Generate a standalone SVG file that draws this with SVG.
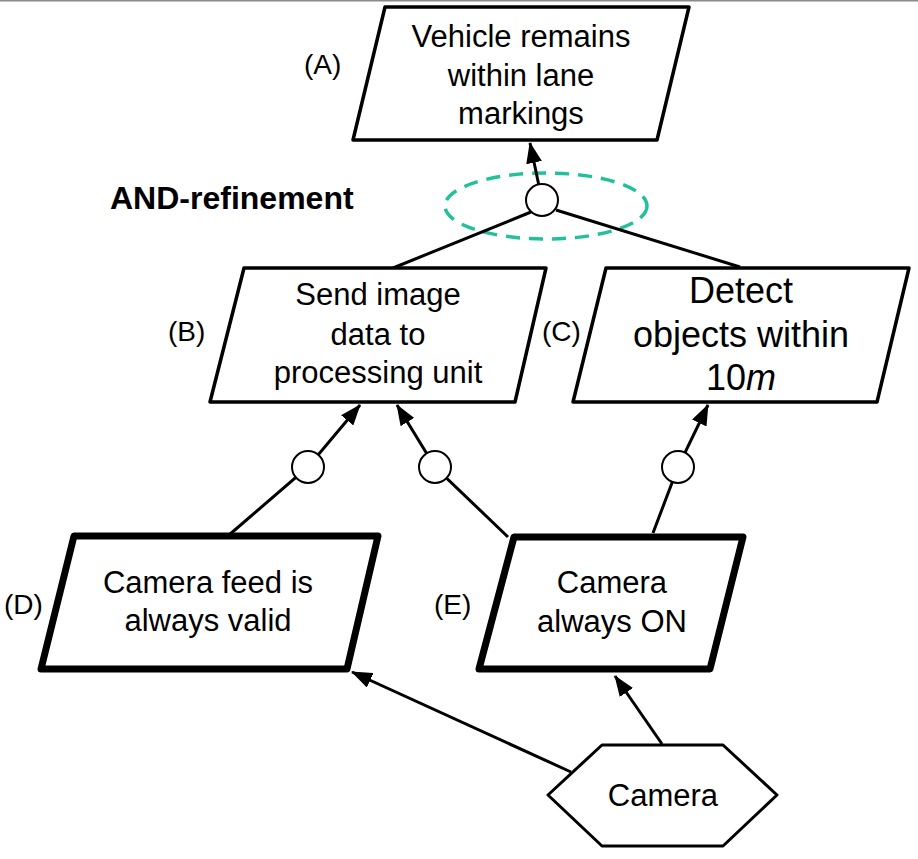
<svg xmlns="http://www.w3.org/2000/svg" width="918" height="859" viewBox="0 0 918 859">
<style>
  text { font-family: "Liberation Sans", Arial, Helvetica, sans-serif; fill: #000; }
  .t { font-size: 31px; text-anchor: middle; }
  .tc { font-size: 36px; text-anchor: middle; }
  .lbl { font-size: 28px; }
  .and { font-size: 32px; font-weight: bold; }
  .goal { fill: #fff; stroke: #000; stroke-width: 3.5; stroke-linejoin: round; }
  .leaf { fill: #fff; stroke: #000; stroke-width: 7; stroke-linejoin: round; }
  .agent { fill: #fff; stroke: #000; stroke-width: 3; stroke-linejoin: round; }
  .edge { fill: none; stroke: #000; stroke-width: 3; }
  .arr { marker-end: url(#ah); }
  .ref { fill: #fff; stroke: #000; stroke-width: 2; }
</style>
<defs>
  <marker id="ah" markerUnits="userSpaceOnUse" viewBox="0 0 21 16" markerWidth="21" markerHeight="16" refX="20" refY="8" orient="auto">
    <path d="M0,0 L21,8 L0,16 z" fill="#000"/>
  </marker>
</defs>
<rect x="0" y="0" width="918" height="1.5" fill="#8a8a8a"/>

<ellipse id="and-refinement-scope" cx="546" cy="206" rx="101" ry="33" fill="none" stroke="#22c09b" stroke-width="3.5" stroke-dasharray="14 9"/>
<text class="and" x="110" y="209">AND-refinement</text>

<g id="connectors">
  <line class="edge arr" x1="539" y1="186" x2="530" y2="143"/>
  <line class="edge" x1="531" y1="212" x2="393" y2="268"/>
  <line class="edge" x1="556" y1="210" x2="740" y2="267"/>
  <polyline class="edge arr" points="229,535 308,467 360,405"/>
  <polyline class="edge arr" points="508,537 435,467 397,405"/>
  <polyline class="edge arr" points="653,533 678,467 708,405"/>
  <line class="edge arr" x1="662" y1="744" x2="615" y2="676"/>
  <line class="edge arr" x1="571" y1="772" x2="352" y2="672"/>
  <circle class="ref" cx="542" cy="200" r="16"/>
  <circle class="ref" cx="308" cy="467" r="16"/>
  <circle class="ref" cx="435" cy="467" r="16"/>
  <circle class="ref" cx="678" cy="467" r="16"/>
</g>

<g id="nodeA">
  <polygon class="goal" points="385,7 689,7 657,140 353,140"/>
  <text class="t" x="521" y="47">Vehicle remains</text>
  <text class="t" x="521" y="86">within lane</text>
  <text class="t" x="521" y="124">markings</text>
  <text class="lbl" x="304" y="74">(A)</text>
</g>

<g id="nodeB">
  <polygon class="goal" points="244,268 546,268 515,402 210,402"/>
  <text class="t" x="378" y="305">Send image</text>
  <text class="t" x="378" y="345">data to</text>
  <text class="t" x="378" y="383">processing unit</text>
  <text class="lbl" x="168" y="341">(B)</text>
</g>

<g id="nodeC">
  <polygon class="goal" points="606,268 909,268 877,402 573,402"/>
  <text class="tc" x="741" y="303">Detect</text>
  <text class="tc" x="741" y="347">objects within</text>
  <text class="tc" x="741" y="390">10<tspan font-style="italic">m</tspan></text>
  <text class="lbl" x="542" y="341">(C)</text>
</g>

<g id="nodeD">
  <polygon class="leaf" points="74,536 378,536 347,669 41,669"/>
  <text class="t" x="208" y="593">Camera feed is</text>
  <text class="t" x="208" y="631">always valid</text>
  <text class="lbl" x="4" y="614">(D)</text>
</g>

<g id="nodeE">
  <polygon class="leaf" points="514,537 743,537 710,669 479,669"/>
  <text class="t" x="612" y="593">Camera</text>
  <text class="t" x="612" y="632">always ON</text>
  <text class="lbl" x="434" y="614">(E)</text>
</g>

<g id="camera">
  <polygon class="agent" points="548,795 602,745 723,745 777,795 723,846 602,846"/>
  <text class="t" x="663" y="806">Camera</text>
</g>
</svg>
